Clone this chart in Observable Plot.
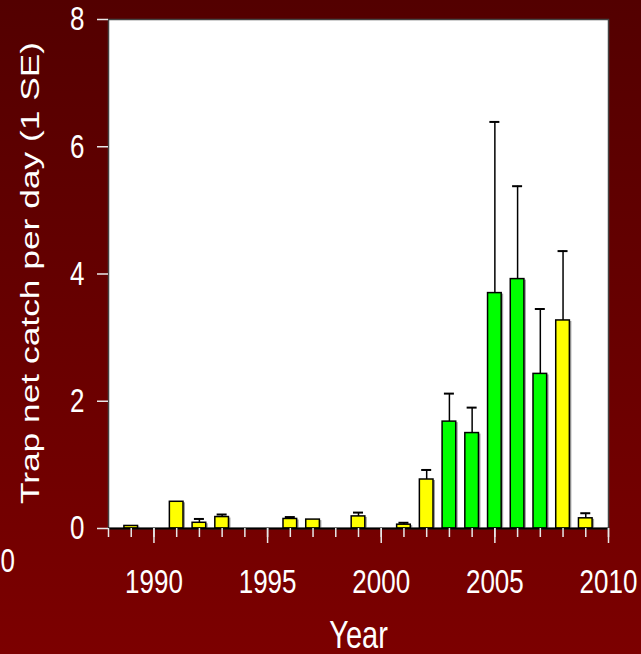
<!DOCTYPE html>
<html>
<head>
<meta charset="utf-8">
<script src="https://cdn.jsdelivr.net/npm/d3@7"></script>
<script src="https://cdn.jsdelivr.net/npm/@observablehq/plot@0.6"></script>
<style>
html, body { margin: 0; padding: 0; background: #5e0000; overflow: hidden; }
#chart svg { display: block; }
</style>
</head>
<body>
<div id="chart"></div>
<script>
// ---- data ----
const years       = [1989, 1991, 1992, 1993, 1996, 1997, 1999, 2001, 2002, 2003, 2004, 2005, 2006, 2007, 2008, 2009];
const catchPerDay = [0.04, 0.42, 0.09, 0.18, 0.15, 0.14, 0.19, 0.06, 0.77, 1.68, 1.50, 3.70, 3.92, 2.43, 3.27, 0.16];
const stdErr      = [0,    0,    0.06, 0.04, 0.03, 0,    0.06, 0.03, 0.15, 0.44, 0.40, 2.69, 1.46, 1.02, 1.09, 0.08];
const barGroup    = ["other","other","other","other","other","other","other","other","other",
                     "peak","peak","peak","peak","peak","other","other"];
const groupNames  = ["other", "peak"];
const groupColors = ["#ffff00", "#00ff00"];
const yTicks      = [0, 2, 4, 6, 8];
const xMajorTicks = [1990, 1995, 2000, 2005, 2010];
const xMinorTicks = [1988,1989,1990,1991,1992,1993,1994,1995,1996,1997,1998,1999,2000,2001,2002,2003,2004,2005,2006,2007,2008,2009,2010];
const xLabel = "Year";
const yLabel = "Trap net catch per day (1 SE)";
const strayLabel = "0";

const data = years.map((year, i) => ({year, value: catchPerDay[i], se: stdErr[i], group: barGroup[i]}));
const errData = data.filter(d => d.se > 0);
const halfBar = 0.3, halfCap = 0.22;
const tickColor = "#e8e8e8";
const font = "'Liberation Sans', Arial, sans-serif";

const chart = Plot.plot({
  width: 641,
  height: 654,
  marginLeft: 108,
  marginRight: 33,
  marginTop: 19,
  marginBottom: 126,
  style: {
    background: "linear-gradient(to bottom, #530000, #7c0000)",
    fontFamily: font,
    color: "white",
    overflow: "visible"
  },
  x: {type: "linear", domain: [1988, 2010]},
  y: {domain: [0, 8]},
  color: {type: "ordinal", domain: groupNames, range: groupColors},
  marks: [
    Plot.frame({fill: "white", stroke: "#444", strokeWidth: 1.5}),
    // soft shadow on bars
    Plot.rectY(data, {x1: d => d.year - halfBar, x2: d => d.year + halfBar, y1: 0, y2: "value",
      fill: "#a0a0a0", dx: 2, dy: 1}),
    // error bars (upper only)
    Plot.ruleX(errData, {x: "year", y1: "value", y2: d => d.value + d.se, stroke: "black", strokeWidth: 1.5}),
    Plot.ruleY(errData, {y: d => d.value + d.se, x1: d => d.year - halfCap, x2: d => d.year + halfCap,
      stroke: "black", strokeWidth: 2}),
    // bars
    Plot.rectY(data, {x1: d => d.year - halfBar, x2: d => d.year + halfBar, y1: 0, y2: "value",
      fill: "group", stroke: "black", strokeWidth: 1.5}),
    Plot.ruleY([0], {stroke: "black", strokeWidth: 2}),
    // axes
    Plot.axisX({ticks: xMinorTicks, tickSize: 9, tickFormat: () => "", stroke: tickColor, strokeWidth: 1.5, label: null}),
    Plot.axisX({ticks: xMajorTicks, tickSize: 15, tickPadding: 25, tickFormat: d => String(d),
      fontSize: 26, stroke: tickColor, fill: "white", strokeWidth: 1.5, label: null}),
    Plot.axisY({ticks: yTicks, tickSize: 11, tickPadding: 13, tickFormat: d => String(d),
      fontSize: 26, stroke: tickColor, fill: "white", strokeWidth: 1.5, label: null}),
    // labels
    Plot.text([yLabel], {text: d => d, frameAnchor: "left", textAnchor: "middle", lineAnchor: "middle",
      dx: -78, dy: -1, rotate: -90, fontSize: 26, fill: "white"}),
    Plot.text([xLabel], {text: d => d, frameAnchor: "bottom", lineAnchor: "top", dy: 93, fontSize: 29, fill: "white"}),
    Plot.text([strayLabel], {text: d => d, frameAnchor: "bottom-left", textAnchor: "start", lineAnchor: "middle",
      dx: -108, dy: 33, fontSize: 26, fill: "white"})
  ]
});

// The reference's lettering is stretched vertically; reproduce that.
const kH = 1.31, kV = 1.36;
const num = v => (v != null && /^-?[\d.]+$/.test(v.trim())) ? +v : 0;
chart.querySelectorAll("text").forEach(t => {
  const tr = t.getAttribute("transform") || "";
  const rotated = /rotate/.test(tr);
  const x = num(t.getAttribute("x")), y = num(t.getAttribute("y"));
  const s = rotated ? `scale(${kV},1)` : `scale(1,${kH})`;
  t.setAttribute("transform", `${tr} translate(${x},${y}) ${s} translate(${-x},${-y})`.trim());
});

document.getElementById("chart").appendChild(chart);
</script>
</body>
</html>
